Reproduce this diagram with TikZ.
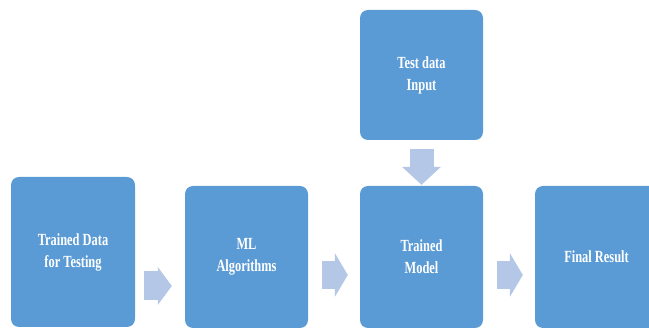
\documentclass[tikz,border=0pt]{standalone}
\usepackage{fontspec}
\newfontfamily\boxfont{Liberation Serif}[FakeStretch=0.73]
\usetikzlibrary{arrows.meta}
\definecolor{boxblue}{HTML}{5B9BD5}
\definecolor{arrowblue}{HTML}{B4C7E7}
\tikzset{
  stage/.style={fill=boxblue,rounded corners=8pt,minimum width=123pt,minimum height=142pt,
    inner sep=0pt,text=white,align=center,font=\boxfont\bfseries\fontsize{17}{22}\selectfont},
  flow/.style={arrowblue,line width=28pt,-{Triangle[length=13pt,width=44pt,line width=0pt]}}
}
\begin{document}
\begin{tikzpicture}[x=1pt,y=1pt]
\useasboundingbox (0,0) rectangle (649,329);
%boxes
\node[stage,minimum width=124pt,minimum height=150pt] (tdata) at (73,77) {Trained Data\\for Testing};
\node[stage] (mlalgo) at (246.5,72) {ML\\Algorithms};
\node[stage] (tmodel) at (421.5,72) {Trained\\Model};
\node[stage] (result) at (596.5,72) {Final Result};
\node[stage,minimum height=130pt] (tinput) at (421.5,254) {Test data\\Input};
%arrows
\draw[flow,line width=29pt,-{Triangle[length=14pt,width=38pt,line width=0pt]}]
  ([xshift=9pt,yshift=-34pt]tdata.east) -- ([xshift=-13pt,yshift=-29pt]mlalgo.west);
\draw[flow] ([xshift=14pt,yshift=-18pt]mlalgo.east) -- ([xshift=-12pt,yshift=-18pt]tmodel.west);
\draw[flow] ([xshift=14pt,yshift=-18pt]tmodel.east) -- ([xshift=-12pt,yshift=-18pt]result.west);
%input arrow
\draw[flow,line width=24pt,-{Triangle[length=18pt,width=39pt,line width=0pt]}]
  ([yshift=-9pt]tinput.south) -- ([yshift=1pt]tmodel.north);
\end{tikzpicture}
\end{document}
